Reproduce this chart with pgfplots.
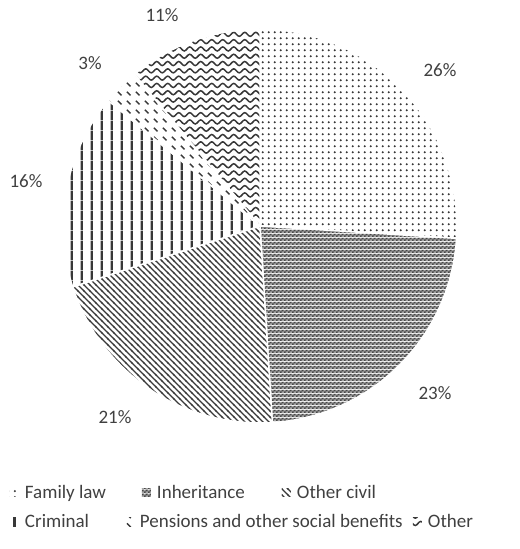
\documentclass[border=0pt]{standalone}
\usepackage{fontspec}
\setmainfont{Carlito}
\usepackage{pgfplots}
\pgfplotsset{compat=1.18}
\usetikzlibrary{patterns}

\definecolor{ink}{HTML}{404040}
\definecolor{pat}{HTML}{383838}

% dotted grid (Family law)
\pgfdeclarepatternformonly{xdots}{\pgfqpoint{0bp}{0bp}}{\pgfqpoint{6.2bp}{6.2bp}}{\pgfqpoint{6.2bp}{6.2bp}}{%
  \pgfpathcircle{\pgfqpoint{3.1bp}{3.1bp}}{1.25bp}\pgfusepath{fill}}
% fine checker (Inheritance)
\pgfdeclarepatterninherentlycolored{xcheck}{\pgfqpoint{0bp}{0bp}}{\pgfqpoint{4bp}{4bp}}{\pgfqpoint{4bp}{4bp}}{%
  \pgfsetfillcolor{black!35}%
  \pgfpathrectangle{\pgfqpoint{0bp}{0bp}}{\pgfqpoint{4bp}{4bp}}\pgfusepath{fill}%
  \pgfsetfillcolor{black!72}%
  \pgfpathrectangle{\pgfqpoint{0bp}{0bp}}{\pgfqpoint{2bp}{2bp}}%
  \pgfpathrectangle{\pgfqpoint{2bp}{2bp}}{\pgfqpoint{2bp}{2bp}}\pgfusepath{fill}}
% diagonal lines \ (Other civil)
\pgfdeclarepatternformonly{xnwlines}{\pgfqpoint{-1bp}{-1bp}}{\pgfqpoint{7bp}{7bp}}{\pgfqpoint{6bp}{6bp}}{%
  \pgfsetlinewidth{1.4bp}%
  \pgfpathmoveto{\pgfqpoint{-1bp}{7bp}}\pgfpathlineto{\pgfqpoint{7bp}{-1bp}}\pgfusepath{stroke}}
% vertical lines (Criminal)
\pgfdeclarepatternformonly{xvlines}{\pgfqpoint{0bp}{0bp}}{\pgfqpoint{9.6bp}{9.6bp}}{\pgfqpoint{9.6bp}{9.6bp}}{%
  \pgfpathrectangle{\pgfqpoint{3.7bp}{0bp}}{\pgfqpoint{2.3bp}{9.6bp}}\pgfusepath{fill}}
% dashed diagonal (Pensions)
\pgfdeclarepatternformonly{xdash}{\pgfqpoint{0bp}{0bp}}{\pgfqpoint{9bp}{9bp}}{\pgfqpoint{9bp}{9bp}}{%
  \pgfsetlinewidth{1.5bp}%
  \pgfpathmoveto{\pgfqpoint{1bp}{8bp}}\pgfpathlineto{\pgfqpoint{5bp}{4bp}}\pgfusepath{stroke}}
% waves (Other)
\pgfdeclarepatternformonly{xwaves}{\pgfqpoint{-1bp}{0bp}}{\pgfqpoint{12bp}{7.3bp}}{\pgfqpoint{11bp}{7.3bp}}{%
  \pgfsetlinewidth{1.5bp}\pgfsetroundcap%
  \pgfpathmoveto{\pgfqpoint{0bp}{3.65bp}}%
  \pgfpathsine{\pgfqpoint{2.75bp}{2bp}}%
  \pgfpathcosine{\pgfqpoint{2.75bp}{-2bp}}%
  \pgfpathsine{\pgfqpoint{2.75bp}{-2bp}}%
  \pgfpathcosine{\pgfqpoint{2.75bp}{2bp}}%
  \pgfusepath{stroke}}

% shares in percent
\def\pFam{26}
\def\pInh{23}
\def\pCiv{21}
\def\pCrim{16}
\def\pPen{3}
\def\pOth{11}
\pgfmathsetmacro\aA{90-3.6*\pFam}
\pgfmathsetmacro\aB{\aA-3.6*\pInh}
\pgfmathsetmacro\aC{\aB-3.6*\pCiv}
\pgfmathsetmacro\aD{\aC-3.6*\pCrim}
\pgfmathsetmacro\aE{\aD-3.6*\pPen}
\pgfmathsetmacro\aF{\aE-3.6*\pOth}

\newcommand\lfont{\fontsize{19bp}{22bp}\selectfont}

\pgfplotsset{
  frame/.style={
    scale only axis, width=520bp, height=549bp,
    xmin=0, xmax=520, ymin=0, ymax=549,
    hide axis, clip=false, at={(0,0)}, anchor=origin,
    legend columns=-1,
    legend image code/.code={\path[##1, draw=none] (0bp,-4bp) rectangle (9bp,4bp);},
    legend style={draw=none, fill=none, inner sep=0pt, outer sep=0pt, anchor=west,
      font=\lfont, text=ink, cells={anchor=west}, nodes={inner xsep=0pt},
      /tikz/every odd column/.append style={column sep=6bp},
      /tikz/every even column/.append style={column sep=0pt}},
  },
  slice/.style={draw=white, line width=1.5bp, samples=80},
}

\begin{document}
\begin{tikzpicture}
\useasboundingbox (0,0) rectangle (520bp,549bp);
\begin{axis}[frame, legend style={at={(0.01923,0.10200)}}]
\addplot[slice, pattern=xdots, pattern color=pat, domain=\aA:90]
  ({260+197*cos(x)},{323+197*sin(x)}) -- (axis cs:260,323) -- cycle;
\addlegendentry{\makebox[117bp][l]{Family law}}
\addplot[slice, pattern=xcheck, domain=\aB:\aA]
  ({260+197*cos(x)},{323+197*sin(x)}) -- (axis cs:260,323) -- cycle;
\addlegendentry{\makebox[125bp][l]{Inheritance}}
\addplot[slice, pattern=xnwlines, pattern color=pat, domain=\aC:\aB]
  ({260+197*cos(x)},{323+197*sin(x)}) -- (axis cs:260,323) -- cycle;
\addlegendentry{Other civil}
\addplot[slice, forget plot, pattern=xvlines, pattern color=pat, domain=\aD:\aC]
  ({260+197*cos(x)},{323+197*sin(x)}) -- (axis cs:260,323) -- cycle;
\addplot[slice, forget plot, pattern=xdash, pattern color=pat, domain=\aE:\aD]
  ({260+197*cos(x)},{323+197*sin(x)}) -- (axis cs:260,323) -- cycle;
\addplot[slice, forget plot, pattern=xwaves, pattern color=pat, domain=\aF:\aE]
  ({260+197*cos(x)},{323+197*sin(x)}) -- (axis cs:260,323) -- cycle;

\begin{scope}[every node/.style={font=\lfont, text=ink}]
\node at (axis cs:440,479) {26\%};
\node at (axis cs:435,156) {23\%};
\node at (axis cs:115,132) {21\%};
\node at (axis cs:26,368) {16\%};
\node at (axis cs:90,486) {3\%};
\node at (axis cs:162,534) {11\%};
\end{scope}
\end{axis}

\begin{axis}[frame, legend style={at={(0.01923,0.04918)}}]
\addlegendimage{pattern=xvlines, pattern color=pat}
\addlegendentry{\makebox[100bp][l]{Criminal}}
\addlegendimage{pattern=xdash, pattern color=pat}
\addlegendentry{\makebox[273bp][l]{Pensions and other social benefits}}
\addlegendimage{pattern=xwaves, pattern color=pat}
\addlegendentry{Other}
\end{axis}
\end{tikzpicture}
\end{document}
